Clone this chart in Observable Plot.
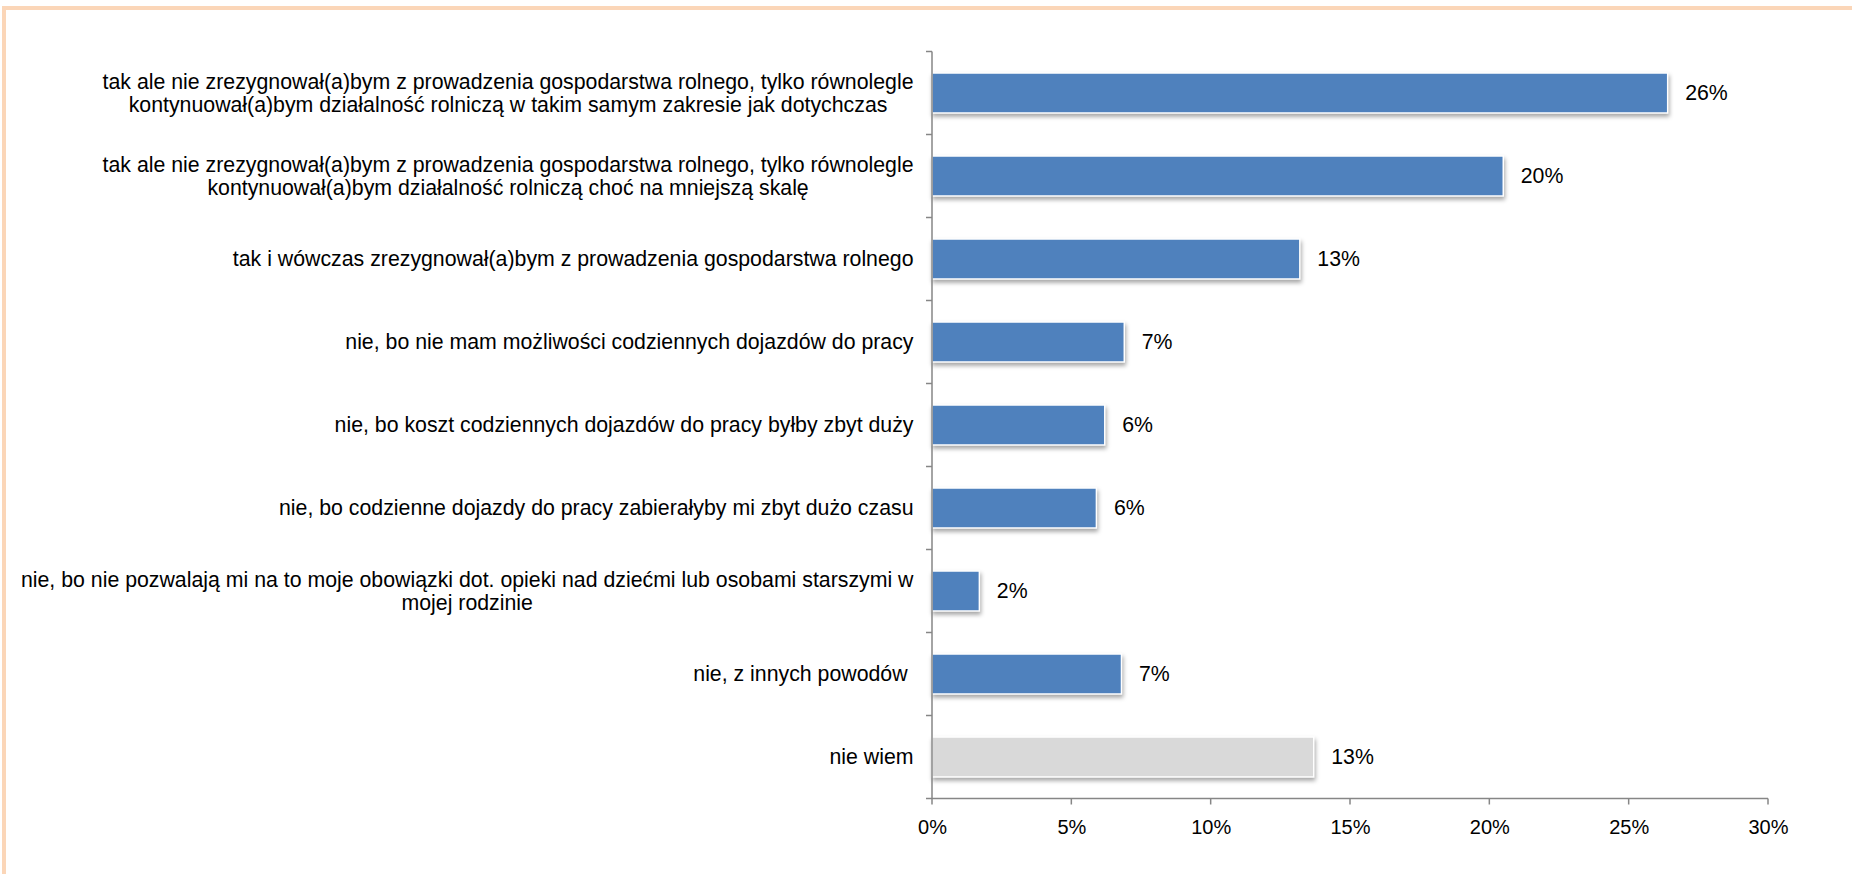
<!DOCTYPE html>
<html>
<head>
<meta charset="utf-8">
<script src="https://cdn.jsdelivr.net/npm/d3@7"></script>
<script src="https://cdn.jsdelivr.net/npm/@observablehq/plot@0.6"></script>
<style>
  html, body { margin: 0; padding: 0; background: #fff; overflow: hidden; }
  #chart { position: absolute; left: 0; top: 0; }
  #frame { position: absolute; left: 2px; top: 6px; width: 2000px; height: 1000px;
           border: 4px solid #FBD6B8; box-sizing: border-box; pointer-events: none; z-index: 2; }
</style>
</head>
<body>
<div id="chart"></div>
<div id="frame"></div>
<script>
// ---- data ----
const categories = [
  "tak ale nie zrezygnował(a)bym z prowadzenia gospodarstwa rolnego, tylko równolegle\nkontynuował(a)bym działalność rolniczą w takim samym zakresie jak dotychczas",
  "tak ale nie zrezygnował(a)bym z prowadzenia gospodarstwa rolnego, tylko równolegle\nkontynuował(a)bym działalność rolniczą choć na mniejszą skalę",
  "tak i wówczas zrezygnował(a)bym z prowadzenia gospodarstwa rolnego",
  "nie, bo nie mam możliwości codziennych dojazdów do pracy",
  "nie, bo koszt codziennych dojazdów do pracy byłby zbyt duży",
  "nie, bo codzienne dojazdy do pracy zabierałyby mi zbyt dużo czasu",
  "nie, bo nie pozwalają mi na to moje obowiązki dot. opieki nad dziećmi lub osobami starszymi w\nmojej rodzinie",
  "nie, z innych powodów\u00a0",
  "nie wiem"
];
const values = [26.4, 20.5, 13.2, 6.9, 6.2, 5.9, 1.7, 6.8, 13.7];
const valueLabels = ["26%", "20%", "13%", "7%", "6%", "6%", "2%", "7%", "13%"];
const groups = ["odp", "odp", "odp", "odp", "odp", "odp", "odp", "odp", "nie wiem"];
const xTicks = [0, 5, 10, 15, 20, 25, 30];
const xTickLabels = ["0%", "5%", "10%", "15%", "20%", "25%", "30%"];

const data = categories.map((c, i) => ({category: c, value: values[i], label: valueLabels[i], group: groups[i]}));

const FONT = "'Liberation Sans', Arial, sans-serif";
const AXIS = "#868686";

// custom mark: axis lines + boundary ticks, from the plot's scales
function axisLines(index, scales, values, dim) {
  const g = d3.create("svg:g").attr("stroke", AXIS).attr("stroke-width", 1.5).attr("fill", "none");
  const x0 = scales.x(0), x1 = scales.x(30);
  const y = scales.y;
  const step = y.step(), bw = y.bandwidth();
  const half = (step - bw) / 2;
  const top = y(categories[0]) - half;
  const bottom = y(categories[categories.length - 1]) + bw + half;
  g.append("line").attr("x1", x0).attr("x2", x0).attr("y1", top).attr("y2", bottom);
  g.append("line").attr("x1", x0 - 6).attr("x2", x1).attr("y1", bottom).attr("y2", bottom);
  categories.forEach(c => {
    const yy = y(c) - half;
    g.append("line").attr("x1", x0 - 6).attr("x2", x0).attr("y1", yy).attr("y2", yy);
  });
  xTicks.forEach(t => {
    g.append("line").attr("x1", scales.x(t)).attr("x2", scales.x(t)).attr("y1", bottom).attr("y2", bottom + 6);
  });
  return g.node();
}

const chart = Plot.plot({
  width: 1852,
  height: 874,
  marginLeft: 932,
  marginRight: 84,
  marginTop: 51,
  marginBottom: 75,
  style: {fontFamily: FONT, fontSize: "21px", color: "#000", background: "transparent"},
  x: {domain: [0, 30]},
  y: {domain: categories, paddingInner: 0.52, paddingOuter: 0.26},
  color: {domain: ["odp", "nie wiem"], range: ["#4F81BD", "#D9D9D9"]},
  marks: [
    Plot.barX(data, {y: "category", x: "value", fill: "group", stroke: "white", strokeWidth: 1.5}),
    Plot.text(data, {y: "category", x: "value", text: "label", dx: 17, textAnchor: "start", fontSize: 21.3, fill: "#000"}),
    axisLines,
    Plot.axisY({tickSize: 0, tickPadding: 19, fontSize: 21.3, label: null, tickFormat: d => d}),
    Plot.axisX({ticks: xTicks, tickFormat: d => xTickLabels[xTicks.indexOf(d)], tickSize: 0, tickPadding: 20, fontSize: 20, label: null})
  ]
});

document.getElementById("chart").appendChild(chart);

// bar shadow
d3.select(chart).selectAll("g[aria-label='bar'] rect")
  .style("filter", "drop-shadow(1px 3px 2px rgba(0,0,0,0.35))");

// center the lines of multi-line y labels within their right-aligned block
const LINE_HEIGHT = 1.05;
d3.select(chart).selectAll("g[aria-label='y-axis tick label'] text").each(function() {
  const tspans = Array.from(this.querySelectorAll("tspan"));
  if (tspans.length < 2) return;
  const n = tspans.length;
  let maxW = 0;
  tspans.forEach(t => { maxW = Math.max(maxW, t.getComputedTextLength()); });
  this.setAttribute("text-anchor", "middle");
  this.removeAttribute("y");
  this.removeAttribute("dy");
  tspans.forEach((t, i) => {
    t.removeAttribute("dy");
    t.setAttribute("x", -maxW / 2);
    t.setAttribute("y", `${(i - (n - 1) / 2) * LINE_HEIGHT + 0.32}em`);
  });
});
</script>
</body>
</html>
